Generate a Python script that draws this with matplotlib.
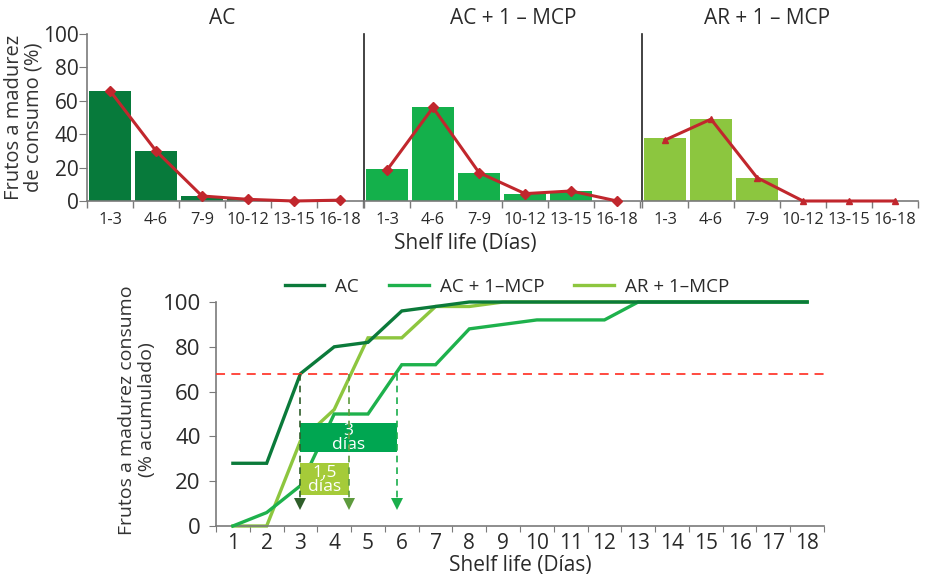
import matplotlib
matplotlib.use("Agg")
import matplotlib.pyplot as plt
from matplotlib.patches import Rectangle
import numpy as np

plt.rcParams['font.family'] = ['Open Sans', 'DejaVu Sans']

# ---------------- data ----------------
ranges = ["1-3", "4-6", "7-9", "10-12", "13-15", "16-18"]
panel_titles = ["AC", "AC + 1 \u2013 MCP", "AR + 1 \u2013 MCP"]
bars_ac = [66, 30, 3, 1, 0, 0]
line_ac = [66, 30, 3, 1, 0, 0.5]
bars_acm = [19, 56, 17, 4, 6, 0]
line_acm = [18.5, 56, 17, 4.4, 6, 0]
bars_arm = [38, 49, 14, 0, 0, 0]
line_arm = [36.5, 49, 14, 0, 0, 0]

days = list(range(1, 19))
cum_ac = [28, 28, 68, 80, 82, 96, 98, 100, 100, 100, 100, 100, 100, 100, 100, 100, 100, 100]
cum_acm = [0, 6, 18, 50, 50, 72, 72, 88, 90, 92, 92, 92, 100, 100, 100, 100, 100, 100]
cum_arm = [0, 0, 38, 52, 84, 84, 98, 98, 100, 100, 100, 100, 100, 100, 100, 100, 100, 100]
legend_labels = ["AC", "AC + 1\u2013MCP", "AR + 1\u2013MCP"]
threshold = 68
cross_days = [3, 4.45, 5.85]
box_3 = (3, 5.85, 33, 46)
box_15 = (3, 4.45, 14, 28)

# ---------------- style ----------------
bar_colors = ["#077a3b", "#14b04b", "#8cc63f"]
red = "#c1272d"
line_colors = ["#0b7a3a", "#1eb14c", "#8dc63f"]
arrow_colors = ["#2f5e2a", "#5e9b3d", "#1aae4b"]
gray = "#7a7a7a"
txt = "#2a2a2a"

fig = plt.figure(figsize=(9.25, 5.8), dpi=100)
W, H = 925, 580

def ax_rect(x0, y0, x1, y1):
    return [x0 / W, 1 - y1 / H, (x1 - x0) / W, (y1 - y0) / H]

lefts = [87, 364, 642]
title_x = [222, 513, 767]
pw = 276
top_bars = [bars_ac, bars_acm, bars_arm]
top_lines = [line_ac, line_acm, line_arm]
markers = ['D', 'D', '^']
xs = np.arange(len(ranges))
for i in range(3):
    ax = fig.add_axes(ax_rect(lefts[i], 34, lefts[i] + pw, 201))
    ax.bar(xs, top_bars[i], width=0.93, color=bar_colors[i], zorder=2)
    ax.plot(xs, top_lines[i], color=red, lw=2.2, marker=markers[i],
            markersize=5, zorder=3, clip_on=False)
    ax.set_xlim(-0.5, len(ranges) - 0.5)
    ax.set_ylim(0, 100)
    for s in ['top', 'right']:
        ax.spines[s].set_visible(False)
    ax.spines['bottom'].set_color(gray)
    ax.spines['bottom'].set_linewidth(1.2)
    ax.set_xticks(np.arange(-0.5, len(ranges)), labels=[])
    ax.tick_params(axis='x', which='major', direction='out', length=5, color=gray, width=1)
    ax.set_xticks(xs, labels=ranges, minor=True)
    ax.tick_params(axis='x', which='minor', length=0, pad=8,
                   labelsize=11.8, labelcolor=txt)
    fig.text(title_x[i] / W, 1 - 18 / H, panel_titles[i], fontsize=15,
             color=txt, ha='center', va='center')
    if i == 0:
        ax.spines['left'].set_color(gray)
        ax.spines['left'].set_linewidth(1.2)
        ax.set_yticks(range(0, 101, 20))
        ax.tick_params(axis='y', direction='out', length=6, color=gray,
                       labelsize=15, labelcolor=txt, pad=0)
        ax.set_ylabel("Frutos a madurez\nde consumo (%)", fontsize=14.5,
                      color="#333333", linespacing=1.0)
        ax.yaxis.set_label_coords(-0.157, 0.5)
    else:
        ax.spines['left'].set_color("#222222")
        ax.spines['left'].set_linewidth(1.2)
        ax.set_yticks([])

fig.text(465 / W, 1 - 243 / H, "Shelf life (D\u00edas)", fontsize=15,
         color=txt, ha='center', va='center')

# ---------------- bottom cumulative chart ----------------
ax = fig.add_axes(ax_rect(216, 302, 824, 526))
cums = [cum_ac, cum_acm, cum_arm]
zorders = [4, 3, 2]
handles = []
for c, col, z, lab in zip(cums, line_colors, zorders, legend_labels):
    h, = ax.plot(days, c, color=col, lw=2.4, zorder=z, label=lab,
                 clip_on=False, solid_joinstyle='miter')
    handles.append(h)

ax.axhline(threshold, color="#ff3b30", lw=1.3, ls=(0, (5, 3.5)), zorder=5)

for x0, x1, y0, y1, col, t in [
        (box_3[0], box_3[1], box_3[2], box_3[3], "#00a651", "3\nd\u00edas"),
        (box_15[0], box_15[1], box_15[2], box_15[3], "#a5cb39", "1,5\nd\u00edas")]:
    ax.add_patch(Rectangle((x0, y0), x1 - x0, y1 - y0, facecolor=col,
                           edgecolor='none', zorder=6))
    ax.text((x0 + x1) / 2, (y0 + y1) / 2 - 0.3, t, ha='center', va='center',
            color='white', fontsize=12.5, linespacing=0.82, zorder=7)

for xd, col in zip(cross_days, arrow_colors):
    ax.plot([xd, xd], [threshold, 12], color=col, lw=1.2,
            ls=(0, (4, 3)), zorder=8)
    ax.plot([xd], [10], marker='v', color=col, markersize=9, zorder=8,
            markeredgewidth=0)

ax.set_xlim(0.5, 18.5)
ax.set_ylim(0, 100)
for s in ['top', 'right']:
    ax.spines[s].set_visible(False)
for s in ['left', 'bottom']:
    ax.spines[s].set_color(gray)
    ax.spines[s].set_linewidth(1.2)
ax.set_xticks(np.arange(0.5, 19), labels=[])
ax.tick_params(axis='x', which='major', direction='out', length=4, color=gray)
ax.set_xticks(days, labels=[str(d) for d in days], minor=True)
ax.tick_params(axis='x', which='minor', length=0, pad=5, labelsize=15,
               labelcolor=txt)
ax.set_yticks(range(0, 101, 20))
ax.tick_params(axis='y', direction='out', length=5, color=gray, labelsize=16,
               labelcolor=txt, pad=6)
ax.set_ylabel("Frutos a madurez consumo\n(% acumulado)", fontsize=14,
              color="#333333", linespacing=1.12)
ax.yaxis.set_label_coords(-0.099, 0.518)
ax.set_xlabel("Shelf life (D\u00edas)", fontsize=15, color=txt, labelpad=1)

leg = ax.legend(handles=handles, loc='center',
                bbox_to_anchor=((507 - 216) / 608, 1 + (302 - 287) / 224),
                ncol=3, frameon=False, fontsize=13.5, handlelength=2.1,
                handletextpad=0.6, columnspacing=1.6, borderaxespad=0,
                labelcolor=txt)

fig.savefig("out.png", dpi=100)
